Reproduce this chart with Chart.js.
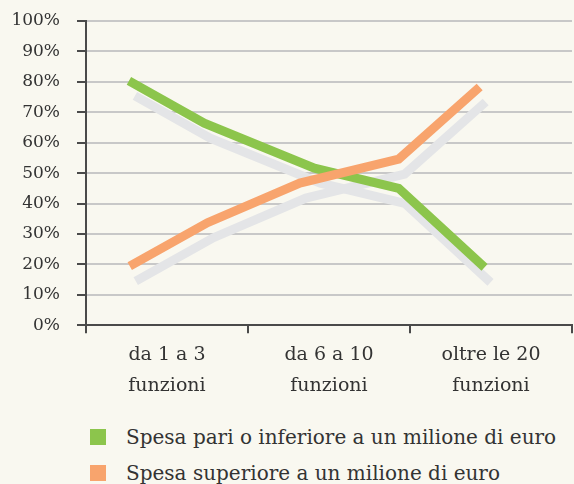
<!DOCTYPE html>
<html>
<head>
<meta charset="utf-8">
<script src="https://cdn.jsdelivr.net/npm/chart.js@4/dist/chart.umd.min.js"></script>
<style>
  body { margin: 0; background: #f9f8f0; }
  #wrap { position: relative; width: 574px; height: 484px; background: #f9f8f0; }
  #chartBox { position: absolute; left: 0; top: 0; width: 574px; height: 408px; }
  #legend { position: absolute; left: 90px; top: 419px; font-family: "DejaVu Serif", serif; font-size: 20px; color: #333; }
  .item { display: flex; align-items: center; height: 36px; }
  .sw { width: 16px; height: 16px; margin-right: 20px; }
</style>
</head>
<body>
<div id="wrap">
  <div id="chartBox"><canvas id="lineChart"></canvas></div>
  <div id="legend"></div>
</div>
<script>
// categories on the x axis
const categories = [['da 1 a 3', 'funzioni'], ['da 6 a 10', 'funzioni'], ['oltre le 20', 'funzioni']];
const yTicks = [0, 10, 20, 30, 40, 50, 60, 70, 80, 90, 100];

// series: positions along the category axis (0..3) and percentages
const greenX = [0.265, 0.73, 1.41, 1.93, 2.46];
const greenY = [80.3, 66.4, 51.6, 45.0, 19.0];
const orangeX = [0.27, 0.75, 1.32, 1.93, 2.43];
const orangeY = [19.4, 33.7, 46.7, 54.6, 78.3];

const seriesNames = ['Spesa pari o inferiore a un milione di euro', 'Spesa superiore a un milione di euro'];
const seriesColors = ['#8cc54c', '#f8a46d'];
const shadowColor = '#e4e5e7';

function toPoints(xs, ys) {
  return xs.map((x, i) => ({ x: x, y: ys[i] }));
}

// draws the grey copies of the lines a bit lower and to the right
const shadowPlugin = {
  id: 'shadowShift',
  beforeDatasetDraw(chart, args) {
    if (args.meta._dataset.isShadow) {
      chart.ctx.save();
      chart.ctx.translate(6, 15);
    }
  },
  afterDatasetDraw(chart, args) {
    if (args.meta._dataset.isShadow) chart.ctx.restore();
  }
};

const lineStyle = { borderWidth: 9, pointRadius: 0, tension: 0, fill: false, xAxisID: 'x', yAxisID: 'y' };

const ctx = document.getElementById('lineChart').getContext('2d');
const lineChart = new Chart(ctx, {
  type: 'line',
  data: {
    datasets: [
      Object.assign({ label: seriesNames[1], data: toPoints(orangeX, orangeY), borderColor: seriesColors[1], order: 0 }, lineStyle),
      Object.assign({ label: seriesNames[0], data: toPoints(greenX, greenY), borderColor: seriesColors[0], order: 1 }, lineStyle),
      Object.assign({ label: 'ombra1', data: toPoints(orangeX, orangeY), borderColor: shadowColor, order: 2, isShadow: true }, lineStyle),
      Object.assign({ label: 'ombra2', data: toPoints(greenX, greenY), borderColor: shadowColor, order: 3, isShadow: true }, lineStyle)
    ]
  },
  options: {
    responsive: true,
    maintainAspectRatio: false,
    animation: false,
    layout: { padding: { top: 21, right: 2, left: 0, bottom: 0 } },
    plugins: {
      legend: { display: false },
      tooltip: { enabled: false }
    },
    scales: {
      x: { type: 'linear', min: 0, max: 3, display: false },
      xc: {
        type: 'category',
        labels: categories,
        position: 'bottom',
        offset: true,
        grid: { offset: true, drawOnChartArea: false, tickLength: 8, tickColor: '#4a4a4a', lineWidth: 2 },
        border: { color: '#4a4a4a', width: 2 },
        ticks: { color: '#333', padding: 7, font: { family: 'DejaVu Serif', size: 19, lineHeight: 1.6 } }
      },
      y: {
        min: 0,
        max: 100,
        afterFit(scale) {
          scale.width = 86;
          scale.paddingTop = 0;
          scale.paddingBottom = 0;
        },
        afterBuildTicks(scale) { scale.ticks = yTicks.map(v => ({ value: v })); },
        grid: { color: '#c8c8c8', lineWidth: 2, tickLength: 9, tickColor: '#4a4a4a' },
        border: { color: '#4a4a4a', width: 2 },
        ticks: {
          color: '#333',
          padding: 17,
          font: { family: 'DejaVu Serif', size: 17 },
          callback: v => v + '%'
        }
      }
    }
  },
  plugins: [shadowPlugin]
});

// legend
const legendBox = document.getElementById('legend');
seriesNames.forEach((name, i) => {
  const row = document.createElement('div');
  row.className = 'item';
  row.innerHTML = '<span class="sw" style="background:' + seriesColors[i] + '"></span><span>' + name + '</span>';
  legendBox.appendChild(row);
});
</script>
</body>
</html>
